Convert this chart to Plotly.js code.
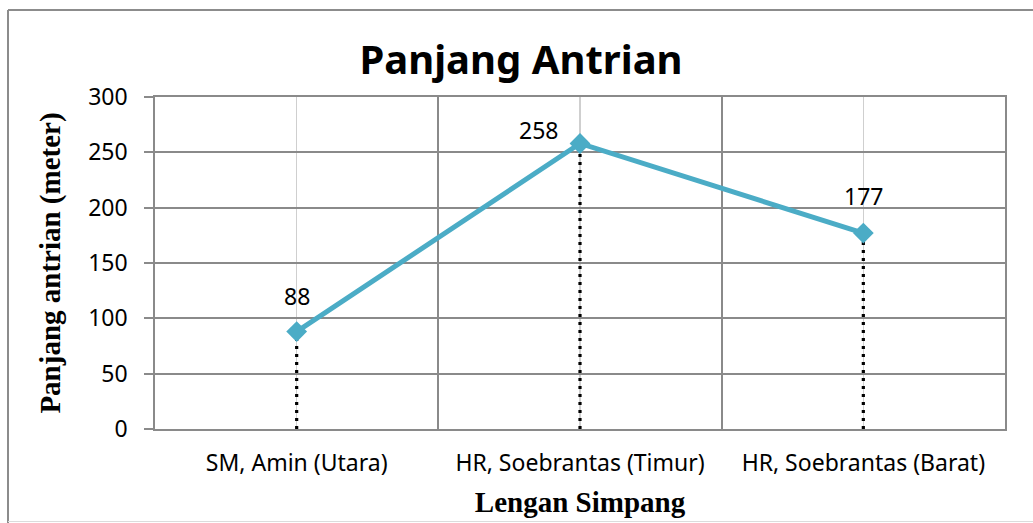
<!DOCTYPE html>
<html>
<head>
<meta charset="utf-8">
<script src="https://cdn.plot.ly/plotly-3.0.1.min.js"></script>
<style>html,body{margin:0;padding:0;background:#fff;}#chart{width:1033px;height:523px;}</style>
</head>
<body>
<div id="chart"></div>
<script>
var categories = ["SM, Amin (Utara)", "HR, Soebrantas (Timur)", "HR, Soebrantas (Barat)"];
var values = [88, 258, 177];
var yTicks = [0, 50, 100, 150, 200, 250, 300];
var chartTitle = "Panjang Antrian";
var xTitle = "Lengan Simpang";
var yTitle = "Panjang antrian (meter)";

var labelShiftX = [0, -42, 0];
var labelShiftY = [36, 13, 37];

var traces = [];
for (var i = 0; i < categories.length; i++) {
  traces.push({
    x: [categories[i], categories[i]],
    y: [0, values[i]],
    type: 'scatter', mode: 'lines',
    line: {color: '#000', width: 3.2, dash: '3px,5px'},
    hoverinfo: 'skip', showlegend: false
  });
}
traces.push({
  x: categories, y: values,
  type: 'scatter', mode: 'lines+markers',
  line: {color: '#4BACC6', width: 5},
  marker: {symbol: 'diamond', size: 16, color: '#4BACC6'},
  showlegend: false
});
traces.push({
  x: categories, y: values, xaxis: 'x2', type: 'scatter', mode: 'markers',
  marker: {opacity: 0}, hoverinfo: 'skip', showlegend: false
});

var annotations = [];
for (var j = 0; j < categories.length; j++) {
  annotations.push({
    x: categories[j], y: values[j], xref: 'x', yref: 'y',
    text: String(values[j]), showarrow: false,
    xshift: labelShiftX[j], yshift: labelShiftY[j],
    font: {family: 'Noto Sans', size: 23, color: '#000'}
  });
}

var gridDark = '#8a8a8a';
var layout = {
  width: 1033, height: 523,
  margin: {l: 155, r: 28, t: 97, b: 94},
  paper_bgcolor: '#fff', plot_bgcolor: '#fff',
  title: {text: chartTitle, font: {family: 'Noto Sans', size: 40, color: '#000', weight: 'bold'},
          x: 521/1033, xref: 'container', xanchor: 'center', y: 1 - 60/523, yref: 'container', yanchor: 'middle'},
  xaxis: {
    type: 'category', categoryarray: categories, range: [-0.5, 2.5],
    showgrid: true, gridcolor: '#cfcfcf', gridwidth: 1.3,
    showline: true, linecolor: gridDark, linewidth: 1.8, mirror: true,
    ticks: '', ticklabelstandoff: 13,
    tickfont: {family: 'Noto Sans', size: 23, color: '#000'},
    title: {text: xTitle, standoff: 14, font: {family: 'Liberation Serif', size: 29, color: '#000', weight: 'bold'}},
    zeroline: false
  },
  xaxis2: {
    type: 'category', categoryarray: categories, range: [-0.5, 2.5],
    overlaying: 'x', anchor: 'y', tickson: 'boundaries',
    showgrid: true, gridcolor: gridDark, gridwidth: 1.8,
    showticklabels: false, ticks: '', showline: false, zeroline: false
  },
  yaxis: {
    range: [0, 300], tickvals: yTicks, ticktext: yTicks.map(String),
    showgrid: true, gridcolor: gridDark, gridwidth: 1.8,
    showline: true, linecolor: gridDark, linewidth: 1.8, mirror: true,
    ticks: 'outside', ticklen: 9, tickwidth: 1.8, tickcolor: gridDark,
    ticklabelstandoff: 12,
    tickfont: {family: 'Noto Sans', size: 23, color: '#000'},
    title: {text: yTitle, standoff: 19, font: {family: 'Liberation Serif', size: 29, color: '#000', weight: 'bold'}},
    zeroline: false
  },
  annotations: annotations,
  shapes: [
    {type: 'line', xref: 'paper', yref: 'paper', x0: (8 - 155)/850, x1: (8 - 155)/850, y0: (429 - 10)/332, y1: (429 - 523)/332, line: {color: '#8c8c8c', width: 2}},
    {type: 'line', xref: 'paper', yref: 'paper', x0: (8 - 155)/850, x1: (1040 - 155)/850, y0: (429 - 10)/332, y1: (429 - 10)/332, line: {color: '#8c8c8c', width: 2}},
    {type: 'line', xref: 'paper', yref: 'paper', x0: (8 - 155)/850, x1: (1040 - 155)/850, y0: (429 - 521.5)/332, y1: (429 - 521.5)/332, line: {color: '#dcdcdc', width: 1}}
  ]
};

Plotly.newPlot('chart', traces, layout, {displayModeBar: false, staticPlot: true});
</script>
</body>
</html>
